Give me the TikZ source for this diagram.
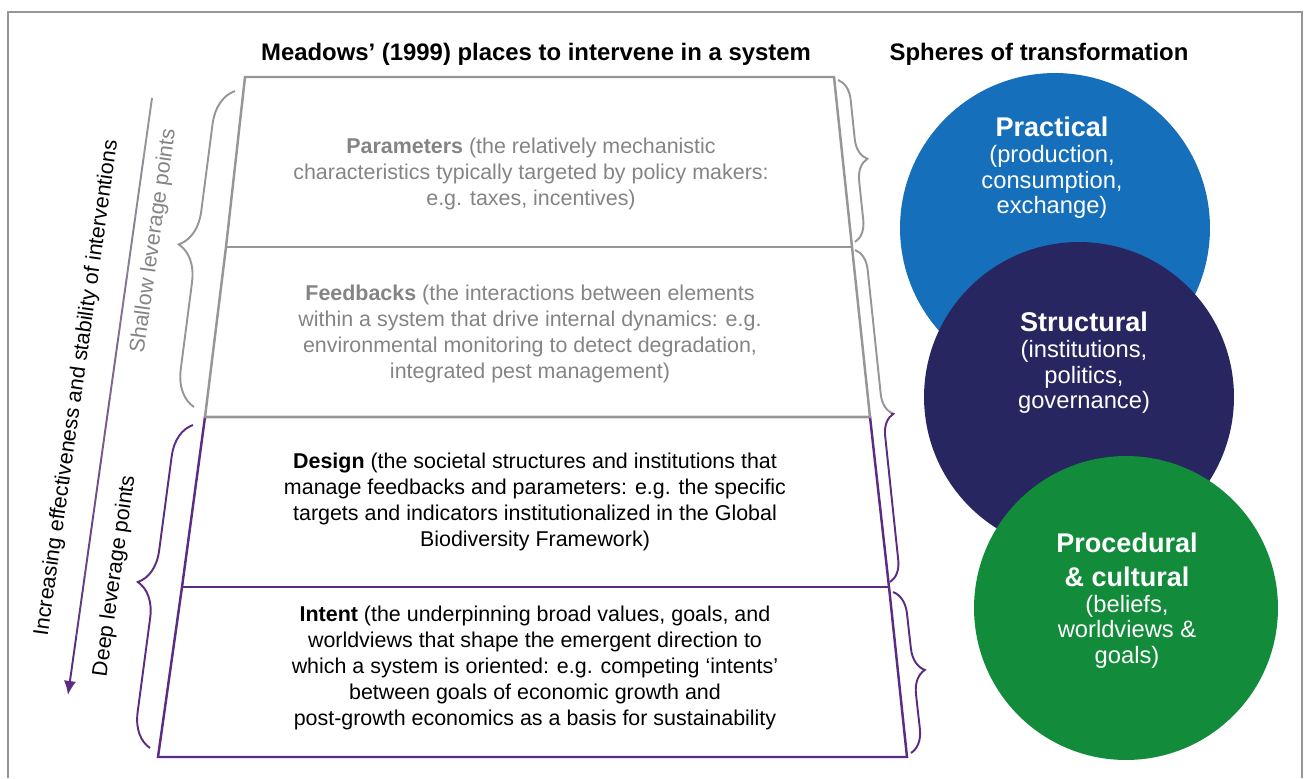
\documentclass[tikz,border=0pt]{standalone}
\usepackage{fontspec}
\setmainfont{Liberation Sans}
\usepackage{tikz}
\usetikzlibrary{calc,arrows.meta,decorations.pathreplacing}
\definecolor{linegray}{RGB}{150,150,150}
\definecolor{textgray}{RGB}{132,132,132}
\definecolor{deeppurple}{RGB}{92,44,132}
\definecolor{practicalblue}{RGB}{22,111,186}
\definecolor{structuralnavy}{RGB}{40,38,96}
\definecolor{proceduralgreen}{RGB}{18,139,59}
\tikzset{shallowline/.style={linegray, line width=1.4pt},
         deepline/.style={deeppurple, line width=1.4pt},
         bracegray/.style={linegray, line width=1.1pt, decorate,
         decoration={brace,amplitude=#1}},
         bracepurple/.style={deeppurple, line width=1.1pt, decorate,
         decoration={brace,amplitude=#1}},
         boxtext/.style={align=center, inner sep=0pt,
         font=\fontsize{12.2}{14.8}\selectfont},
         sidelabel/.style={rotate=82, inner sep=0pt,
         font=\fontsize{12.2}{14.8}\selectfont},
         titletext/.style={inner sep=0pt, font=\fontsize{13.6}{16}\selectfont\bfseries},
         sphere/.style={circle, fill=#1, minimum size=6.2cm, inner sep=0pt},
         spheretext/.style={align=center, anchor=north, inner sep=0pt, text=white,
         font=\fontsize{13.5}{14.6}\selectfont}}
\newcommand{\spheretitle}[1]{{\fontsize{15.4}{14.6}\selectfont\bfseries #1}}

\begin{document}
\begin{tikzpicture}[x=0.02cm,y=-0.02cm]
\useasboundingbox (0,0) rectangle (1304,778);
\draw [linegray, line width=0.6pt] (8,778) -- (8,12) -- (1302,12) -- (1302,778);

\node [titletext] (meadowstitle) at (536,54) {Meadows' (1999) places to intervene in a system};
\node [titletext] (spherestitle) at (1039,54) {Spheres of transformation};

% trapezoid
\coordinate (tl) at (245,77);  \coordinate (tr) at (834,77);
\coordinate (l1) at (226,247); \coordinate (r1) at (852,247);
\coordinate (l2) at (205,417); \coordinate (r2) at (870,417);
\coordinate (l3) at (182,587); \coordinate (r3) at (889,587);
\coordinate (bl) at (158,757); \coordinate (br) at (907,757);
\draw [deepline] (l2) -- (r2) -- (r3) -- (br) -- (bl) -- (l3) -- cycle;
\draw [deepline] (l3) -- (r3);
\draw [shallowline] (tl) -- (tr) -- (r1) -- (r2) -- (l2) -- (l1) -- cycle;
\draw [shallowline] (l1) -- (r1);

\node [boxtext, text=textgray] (parameters) at (531,174) {\textbf{Parameters} (the relatively mechanistic\\characteristics typically targeted by policy makers:\\e.g. taxes, incentives)};
\node [boxtext, text=textgray] (feedbacks) at (530,334) {\textbf{Feedbacks} (the interactions between elements\\within a system that drive internal dynamics: e.g.\\environmental monitoring to detect degradation,\\integrated pest management)};
\node [boxtext] (design) at (535,502) {\textbf{Design} (the societal structures and institutions that\\manage feedbacks and parameters: e.g. the specific\\targets and indicators institutionalized in the Global\\Biodiversity Framework)};
\node [boxtext] (intent) at (535,668) {\textbf{Intent} (the underpinning broad values, goals, and\\worldviews that shape the emergent direction to\\which a system is oriented: e.g. competing `intents'\\between goals of economic growth and\\post-growth economics as a basis for sustainability};

% braces
\draw [bracegray=0.72cm] (194,407) -- (235,91);
\draw [bracepurple=0.68cm] (150,748) -- (193,425);
\draw [bracegray=0.42cm] (838,80) -- (855,242);
\begin{scope}
\clip (840,240) rectangle (920,413);
\draw [bracegray=0.42cm] (855,250) -- (890,582);
\end{scope}
\begin{scope}
\clip (840,413) rectangle (920,590);
\draw [bracepurple=0.42cm] (855,250) -- (890,582);
\end{scope}
\draw [bracepurple=0.46cm] (893,592) -- (911,753);

% arrow
\coordinate (arrowstart) at (152,98);
\coordinate (arrowend) at (68,695);
\foreach \i in {0,...,8} {
  \pgfmathtruncatemacro\mix{\i*11}
  \draw [line width=1.1pt, deeppurple!\mix!linegray] ($(arrowstart)!{\i/10}!(arrowend)$) -- ($(arrowstart)!{\i/10+0.1}!(arrowend)$);
}
\draw [line width=1.1pt, deeppurple, -{Latex[length=8pt,width=7pt]}] ($(arrowstart)!0.9!(arrowend)$) -- (arrowend);

\node [sidelabel] (effectiveness) at (77,388) {Increasing effectiveness and stability of interventions};
\node [sidelabel, text=textgray] (shallow) at (154,241) {Shallow leverage points};
\node [sidelabel] (deep) at (115,576) {Deep leverage points};

% spheres
\node [sphere=practicalblue] (practical) at (1055,228) {};
\node [sphere=structuralnavy] (structural) at (1079,397) {};
\node [sphere=proceduralgreen, minimum size=6.08cm] (procedural) at (1126,608) {};
\node [spheretext] (practicallabel) at (1052,117) {\spheretitle{Practical}\\(production,\\consumption,\\exchange)};
\node [spheretext] (structurallabel) at (1084,312) {\spheretitle{Structural}\\(institutions,\\politics,\\governance)};
\node [spheretext] (procedurallabel) at (1127,533) {\spheretitle{Procedural}\\[4.5pt]\spheretitle{\& cultural}\\(beliefs,\\worldviews \&\\goals)};

\end{tikzpicture}
\end{document}
